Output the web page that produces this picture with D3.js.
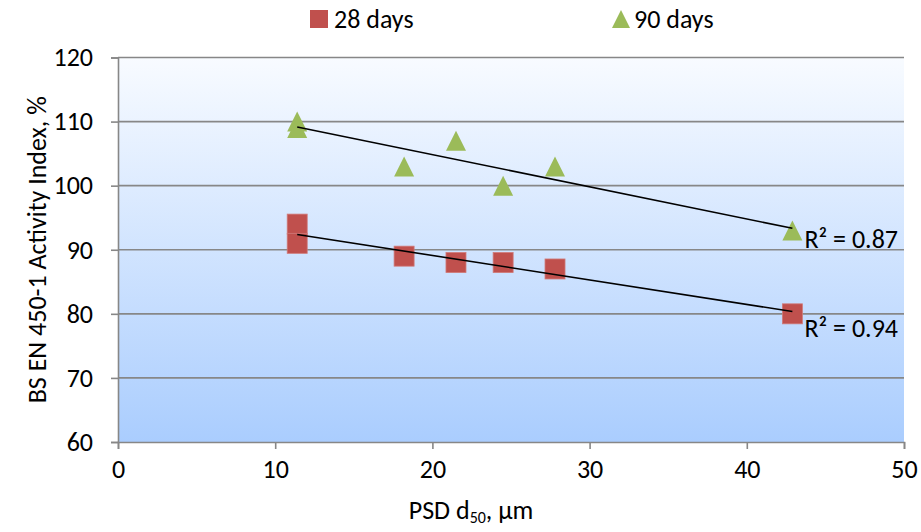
<!DOCTYPE html>
<html>
<head>
<meta charset="utf-8">
<script src="https://cdn.jsdelivr.net/npm/d3@7"></script>
<style>
  html, body { margin: 0; padding: 0; background: #fff; }
  svg { display: block; font-family: Carlito, Lato, "Open Sans", sans-serif; }
</style>
</head>
<body>
<svg id="chart" width="921" height="532"></svg>
<script>
// Particle size (d50, µm) against activity index
const psd28 = [11.4, 11.4, 18.2, 21.5, 24.5, 27.8, 42.9];
const ai28  = [94, 91, 89, 88, 88, 87, 80];
const psd90 = [11.4, 11.4, 18.2, 21.5, 24.5, 27.8, 42.9];
const ai90  = [110, 109, 103, 107, 100, 103, 93];
const seriesNames = ["28 days", "90 days"];
const xTicks = [0, 10, 20, 30, 40, 50];
const yTicks = [60, 70, 80, 90, 100, 110, 120];

const FS = 26;
const svg = d3.select("#chart");
const m = { left: 118, right: 904, top: 57.5, bottom: 442 };

const x = d3.scaleLinear().domain([0, 50]).range([m.left, m.right]);
const y = d3.scaleLinear().domain([60, 120]).range([m.bottom, m.top]);

const RED = "#c0504d", GREEN = "#9bbb59", GRID = "#878787";

// plot-area gradient
const defs = svg.append("defs");
const grad = defs.append("linearGradient").attr("id", "bg")
  .attr("x1", 0).attr("y1", 0).attr("x2", 0).attr("y2", 1);
grad.append("stop").attr("offset", "0%").attr("stop-color", "#f8fbff");
grad.append("stop").attr("offset", "100%").attr("stop-color", "#aacdfe");

svg.append("rect")
  .attr("x", m.left).attr("y", m.top)
  .attr("width", m.right - m.left).attr("height", m.bottom - m.top)
  .attr("fill", "url(#bg)");

// horizontal gridlines
svg.append("g").selectAll("line")
  .data(yTicks.filter(v => v > 60))
  .join("line")
  .attr("x1", m.left).attr("x2", m.right)
  .attr("y1", d => y(d)).attr("y2", d => y(d))
  .attr("stroke", GRID).attr("stroke-width", 1.6);

// axes
const yAxis = svg.append("g")
  .attr("transform", `translate(${m.left},0)`)
  .call(d3.axisLeft(y).tickValues(yTicks).tickSize(7).tickPadding(18));
const xAxis = svg.append("g")
  .attr("transform", `translate(0,${m.bottom})`)
  .call(d3.axisBottom(x).tickValues(xTicks).tickSize(7).tickPadding(11));

[yAxis, xAxis].forEach(g => {
  g.select(".domain").attr("stroke", GRID).attr("stroke-width", 1.6);
  g.selectAll(".tick line").attr("stroke", GRID).attr("stroke-width", 1.6);
  g.selectAll(".tick text").attr("fill", "#000").attr("font-size", FS)
    .attr("font-family", "Carlito, Lato, 'Open Sans', sans-serif");
});
xAxis.selectAll(".tick text").attr("dy", "0.71em");

// least-squares fit with R²
function fit(xs, ys) {
  const mx = d3.mean(xs), my = d3.mean(ys);
  let sxy = 0, sxx = 0, syy = 0;
  xs.forEach((xi, i) => {
    sxy += (xi - mx) * (ys[i] - my);
    sxx += (xi - mx) ** 2;
    syy += (ys[i] - my) ** 2;
  });
  const slope = sxy / sxx;
  return { slope, intercept: my - slope * mx, r2: (sxy * sxy) / (sxx * syy) };
}

const series = [
  { xs: psd28, ys: ai28, color: RED, shape: "square", labelDy: 25 },
  { xs: psd90, ys: ai90, color: GREEN, shape: "triangle", labelDy: 20 }
];

const sqSize = 20;
const triPath = "M0,-10L10,10L-10,10Z";

series.forEach(s => {
  const f = fit(s.xs, s.ys);
  const x0 = d3.min(s.xs), x1 = d3.max(s.xs);
  const g = svg.append("g");
  const pts = s.xs.map((v, i) => [v, s.ys[i]]);
  if (s.shape === "square") {
    g.selectAll("rect").data(pts).join("rect")
      .attr("x", d => x(d[0]) - sqSize / 2).attr("y", d => y(d[1]) - sqSize / 2)
      .attr("width", sqSize).attr("height", sqSize)
      .attr("fill", RED).attr("stroke", "#d07a78").attr("stroke-width", 0.8);
  } else {
    g.selectAll("path").data(pts).join("path")
      .attr("transform", d => `translate(${x(d[0])},${y(d[1])})`)
      .attr("d", triPath).attr("fill", GREEN);
  }
  // trendline over the data range
  svg.append("line")
    .attr("x1", x(x0)).attr("y1", y(f.intercept + f.slope * x0))
    .attr("x2", x(x1)).attr("y2", y(f.intercept + f.slope * x1))
    .attr("stroke", "#000").attr("stroke-width", 1.6);
  svg.append("text")
    .attr("x", x(x1) + 12).attr("y", y(f.intercept + f.slope * x1) + s.labelDy)
    .attr("font-size", FS).attr("fill", "#000")
    .text(`R² = ${f.r2.toFixed(2)}`);
});

// legend
const leg = svg.append("g");
leg.append("rect").attr("x", 310).attr("y", 10).attr("width", 18).attr("height", 18).attr("fill", RED);
leg.append("text").attr("x", 334).attr("y", 28).attr("font-size", FS).text(seriesNames[0]);
leg.append("path").attr("transform", "translate(621,19)").attr("d", "M0,-9L9,9L-9,9Z").attr("fill", GREEN);
leg.append("text").attr("x", 634).attr("y", 28).attr("font-size", FS).text(seriesNames[1]);

// axis titles
svg.append("text")
  .attr("transform", `translate(46,${(m.top + m.bottom) / 2}) rotate(-90)`)
  .attr("text-anchor", "middle").attr("font-size", FS)
  .text("BS EN 450-1 Activity Index, %");

const xt = svg.append("text")
  .attr("x", (m.left + m.right) / 2 - 40).attr("y", 519)
  .attr("text-anchor", "middle").attr("font-size", FS);
xt.append("tspan").text("PSD d");
xt.append("tspan").attr("font-size", 16).attr("dy", 4).text("50");
xt.append("tspan").attr("dy", -4).text(", µm");
</script>
</body>
</html>
